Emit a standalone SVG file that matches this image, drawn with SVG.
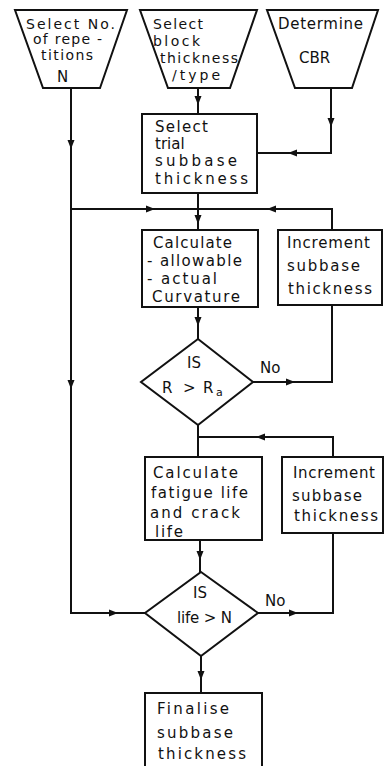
<svg xmlns="http://www.w3.org/2000/svg" width="385" height="766" viewBox="0 0 385 766">
  <style>
    .shape { fill: #fff; stroke: #111; stroke-width: 2; stroke-linejoin: miter; }
    .wire { fill: none; stroke: #111; stroke-width: 2; }
    .lbl { font-family: "DejaVu Sans", "Liberation Sans", sans-serif; font-size: 15px; fill: #111; }
    .sm { font-size: 14px; }
    .sub { font-size: 11px; }
  </style>
  <defs>
    <!-- arrowhead pointing right, tip at the origin -->
    <path id="ah" d="M0,0 L-9,-3.5 L-9,3.5 Z" fill="#111"/>
  </defs>
  <rect width="385" height="766" fill="#fff"/>

  <g id="connectors">
    <!-- inputs into trial thickness -->
    <polyline class="wire" points="198,88 198,114"/>
    <polyline class="wire" points="331,88 331,153 257,153"/>
    <!-- repetitions N down to second test -->
    <polyline class="wire" points="71,88 71,613 145,613"/>
    <!-- loop junction above curvature -->
    <polyline class="wire" points="198,193 198,230"/>
    <polyline class="wire" points="71,209 332,209 332,230"/>
    <!-- curvature check -->
    <polyline class="wire" points="198,307 198,339"/>
    <polyline class="wire" points="253,382 332,382 332,305"/>
    <!-- life check -->
    <polyline class="wire" points="198,425 198,457"/>
    <polyline class="wire" points="198,437 333,437 333,457"/>
    <polyline class="wire" points="200,540 200,572"/>
    <polyline class="wire" points="258,613 333,613 333,533"/>
    <polyline class="wire" points="201,656 201,693"/>

    <use href="#ah" transform="translate(198,105) rotate(90)"/>
    <use href="#ah" transform="translate(331,127) rotate(90)"/>
    <use href="#ah" transform="translate(288,153) rotate(180)"/>
    <use href="#ah" transform="translate(71,149) rotate(90)"/>
    <use href="#ah" transform="translate(71,389) rotate(90)"/>
    <use href="#ah" transform="translate(155,209)"/>
    <use href="#ah" transform="translate(267,209) rotate(180)"/>
    <use href="#ah" transform="translate(198,224) rotate(90)"/>
    <use href="#ah" transform="translate(198,326) rotate(90)"/>
    <use href="#ah" transform="translate(295,382)"/>
    <use href="#ah" transform="translate(256,437) rotate(180)"/>
    <use href="#ah" transform="translate(200,560) rotate(90)"/>
    <use href="#ah" transform="translate(118,613)"/>
    <use href="#ah" transform="translate(298,613)"/>
    <use href="#ah" transform="translate(201,680) rotate(90)"/>
  </g>

  <g id="select-repetitions">
    <polygon class="shape" points="15,10 127,10 100,88 43,88"/>
    <text class="lbl sm" x="26" y="29" textLength="89" lengthAdjust="spacing">Select No.</text>
    <text class="lbl sm" x="33" y="44" textLength="69" lengthAdjust="spacing">of repe -</text>
    <text class="lbl sm" x="41" y="60" textLength="52" lengthAdjust="spacing">titions</text>
    <text class="lbl" x="57" y="82">N</text>
  </g>

  <g id="select-block">
    <polygon class="shape" points="140,10 257,10 230,88 168,88"/>
    <text class="lbl sm" x="153" y="29" textLength="50" lengthAdjust="spacing">Select</text>
    <text class="lbl sm" x="153" y="46" textLength="47" lengthAdjust="spacing">block</text>
    <text class="lbl sm" x="160" y="63" textLength="78" lengthAdjust="spacing">thickness</text>
    <text class="lbl sm" x="172" y="80" textLength="48" lengthAdjust="spacing">/type</text>
  </g>

  <g id="determine-cbr">
    <polygon class="shape" points="267,10 378,10 352,88 295,88"/>
    <text class="lbl" x="278" y="29" textLength="85" lengthAdjust="spacing">Determine</text>
    <text class="lbl" x="299" y="63">CBR</text>
  </g>

  <g id="trial-thickness">
    <rect class="shape" x="142" y="114" width="115" height="79"/>
    <text class="lbl" x="155" y="132" textLength="53" lengthAdjust="spacing">Select</text>
    <text class="lbl" x="155" y="149">trial</text>
    <text class="lbl" x="155" y="166" textLength="82" lengthAdjust="spacing">subbase</text>
    <text class="lbl" x="155" y="184" textLength="93" lengthAdjust="spacing">thickness</text>
  </g>

  <g id="calc-curvature">
    <rect class="shape" x="142" y="230" width="116" height="77"/>
    <text class="lbl" x="153" y="248" textLength="79" lengthAdjust="spacing">Calculate</text>
    <text class="lbl" x="147" y="266" textLength="95" lengthAdjust="spacing">- allowable</text>
    <text class="lbl" x="147" y="284" textLength="70" lengthAdjust="spacing">- actual</text>
    <text class="lbl" x="152" y="302" textLength="88" lengthAdjust="spacing">Curvature</text>
  </g>

  <g id="increment-1">
    <rect class="shape" x="278" y="230" width="104" height="75"/>
    <text class="lbl" x="287" y="248" textLength="83" lengthAdjust="spacing">Increment</text>
    <text class="lbl" x="287" y="271" textLength="73" lengthAdjust="spacing">subbase</text>
    <text class="lbl" x="288" y="294" textLength="84" lengthAdjust="spacing">thickness</text>
  </g>

  <g id="check-curvature">
    <polygon class="shape" points="198,339 253,382 198,425 141,382"/>
    <text class="lbl" x="187" y="368">IS</text>
    <text class="lbl" y="393"><tspan x="162">R</tspan><tspan x="183">&gt;</tspan><tspan x="203">R</tspan><tspan class="sub" x="216" dy="3">a</tspan></text>
    <text class="lbl" x="260" y="373">No</text>
  </g>

  <g id="calc-life">
    <rect class="shape" x="145" y="457" width="117" height="83"/>
    <text class="lbl" x="153" y="478" textLength="85" lengthAdjust="spacing">Calculate</text>
    <text class="lbl" x="151" y="498" textLength="97" lengthAdjust="spacing">fatigue life</text>
    <text class="lbl" x="150" y="518" textLength="90" lengthAdjust="spacing">and crack</text>
    <text class="lbl" x="155" y="537" textLength="28" lengthAdjust="spacing">life</text>
  </g>

  <g id="increment-2">
    <rect class="shape" x="282" y="457" width="101" height="76"/>
    <text class="lbl" x="293" y="478" textLength="82" lengthAdjust="spacing">Increment</text>
    <text class="lbl" x="292" y="501" textLength="70" lengthAdjust="spacing">subbase</text>
    <text class="lbl" x="294" y="521" textLength="84" lengthAdjust="spacing">thickness</text>
  </g>

  <g id="check-life">
    <polygon class="shape" points="201,572 258,613 201,656 145,613"/>
    <text class="lbl" x="193" y="598">IS</text>
    <text class="lbl" x="177" y="623" textLength="55" lengthAdjust="spacing">life &gt; N</text>
    <text class="lbl" x="265" y="606">No</text>
  </g>

  <g id="finalise">
    <rect class="shape" x="145" y="693" width="117" height="80"/>
    <text class="lbl" x="157" y="714" textLength="72" lengthAdjust="spacing">Finalise</text>
    <text class="lbl" x="157" y="738" textLength="76" lengthAdjust="spacing">subbase</text>
    <text class="lbl" x="158" y="759" textLength="88" lengthAdjust="spacing">thickness</text>
  </g>
</svg>
